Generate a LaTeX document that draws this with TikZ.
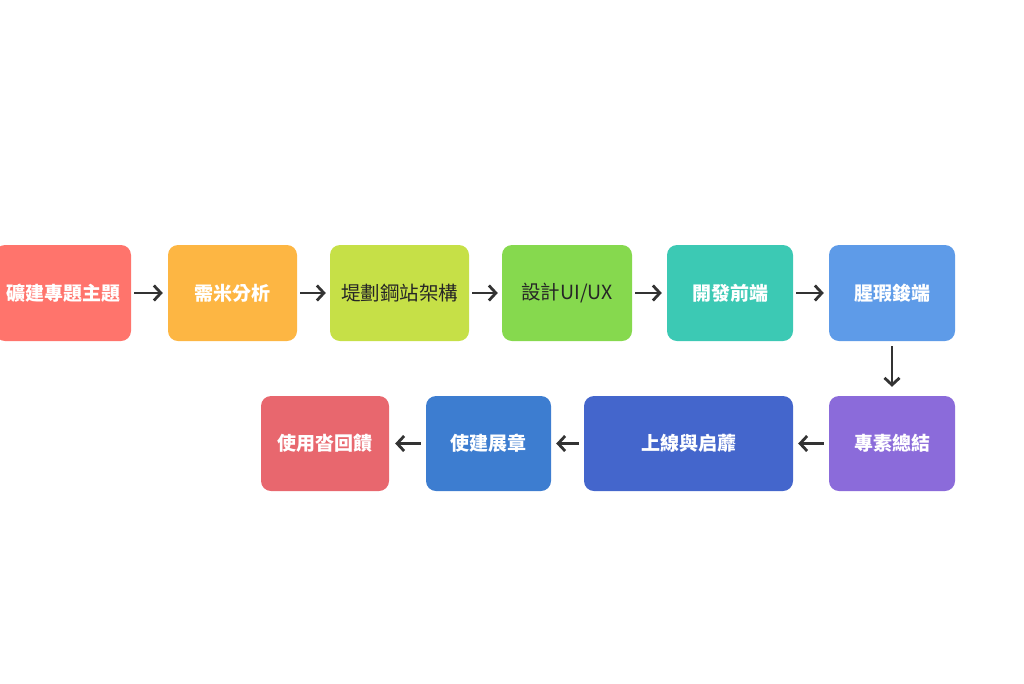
\documentclass[tikz,border=0pt]{standalone}
\usepackage{fontspec}
\setmainfont{Noto Sans CJK TC}
\usetikzlibrary{arrows.meta}
\definecolor{c1}{HTML}{FF746C}
\definecolor{c2}{HTML}{FDB643}
\definecolor{c3}{HTML}{C6E047}
\definecolor{c4}{HTML}{86D94E}
\definecolor{c5}{HTML}{3CC9B4}
\definecolor{c6}{HTML}{5E9BE8}
\definecolor{c7}{HTML}{8B6BDA}
\definecolor{c8}{HTML}{4466CC}
\definecolor{c9}{HTML}{3D7DD0}
\definecolor{c10}{HTML}{E8676E}
\definecolor{arr}{HTML}{333333}
\tikzset{
  box/.style={rounded corners=10pt, minimum height=96pt, inner sep=0pt, font=\fontsize{19}{22}\selectfont\bfseries, text=white},
  darkbox/.style={box, font=\fontsize{19.5}{22}\selectfont, text=black!85},
  flow/.style={draw=arr, line width=2.8pt, -{Straight Barb[length=7pt,width=15pt,line width=2.8pt]}}
}
\begin{document}
\begin{tikzpicture}[x=1pt,y=-1pt]
\useasboundingbox (0,0) rectangle (1024,683);
\node[box, fill=c1, minimum width=136pt] (n1) at (63,293) {礦建專題主題};
\node[box, fill=c2, minimum width=129pt] (n2) at (232.5,293) {需米分析};
\node[darkbox, fill=c3, minimum width=139pt] (n3) at (399.5,293) {堤劃鋼站架構};
\node[darkbox, fill=c4, minimum width=130pt] (n4) at (567,293) {設計UI/UX};
\node[box, fill=c5, minimum width=126pt] (n5) at (730,293) {開發前端};
\node[box, fill=c6, minimum width=126pt] (n6) at (892,293) {腥瑕鋑端};
\node[box, fill=c7, minimum width=126pt, minimum height=95pt] (n7) at (892,443.5) {專素總結};
\node[box, fill=c8, minimum width=209pt, minimum height=95pt] (n8) at (688.5,443.5) {上線與启蘼};
\node[box, fill=c9, minimum width=125pt, minimum height=95pt] (n9) at (488.5,443.5) {使建展章};
\node[box, fill=c10, minimum width=128pt, minimum height=95pt] (n10) at (325,443.5) {使用沓回饋};
\draw[flow] ([xshift=3pt]n1.east) -- ([xshift=-5pt]n2.west);
\draw[flow] ([xshift=3pt]n2.east) -- ([xshift=-4pt]n3.west);
\draw[flow] ([xshift=3pt]n3.east) -- ([xshift=-4pt]n4.west);
\draw[flow] ([xshift=3pt]n4.east) -- ([xshift=-5pt]n5.west);
\draw[flow] ([xshift=3pt]n5.east) -- ([xshift=-5pt]n6.west);
\draw[flow] ([yshift=-5pt]n6.south) -- ([yshift=9pt]n7.north);
\draw[flow] ([xshift=-5pt]n7.west) -- ([xshift=5pt]n8.east);
\draw[flow] ([xshift=-5pt]n8.west) -- ([xshift=5pt]n9.east);
\draw[flow] ([xshift=-5pt]n9.west) -- ([xshift=6pt]n10.east);
\end{tikzpicture}
\end{document}
